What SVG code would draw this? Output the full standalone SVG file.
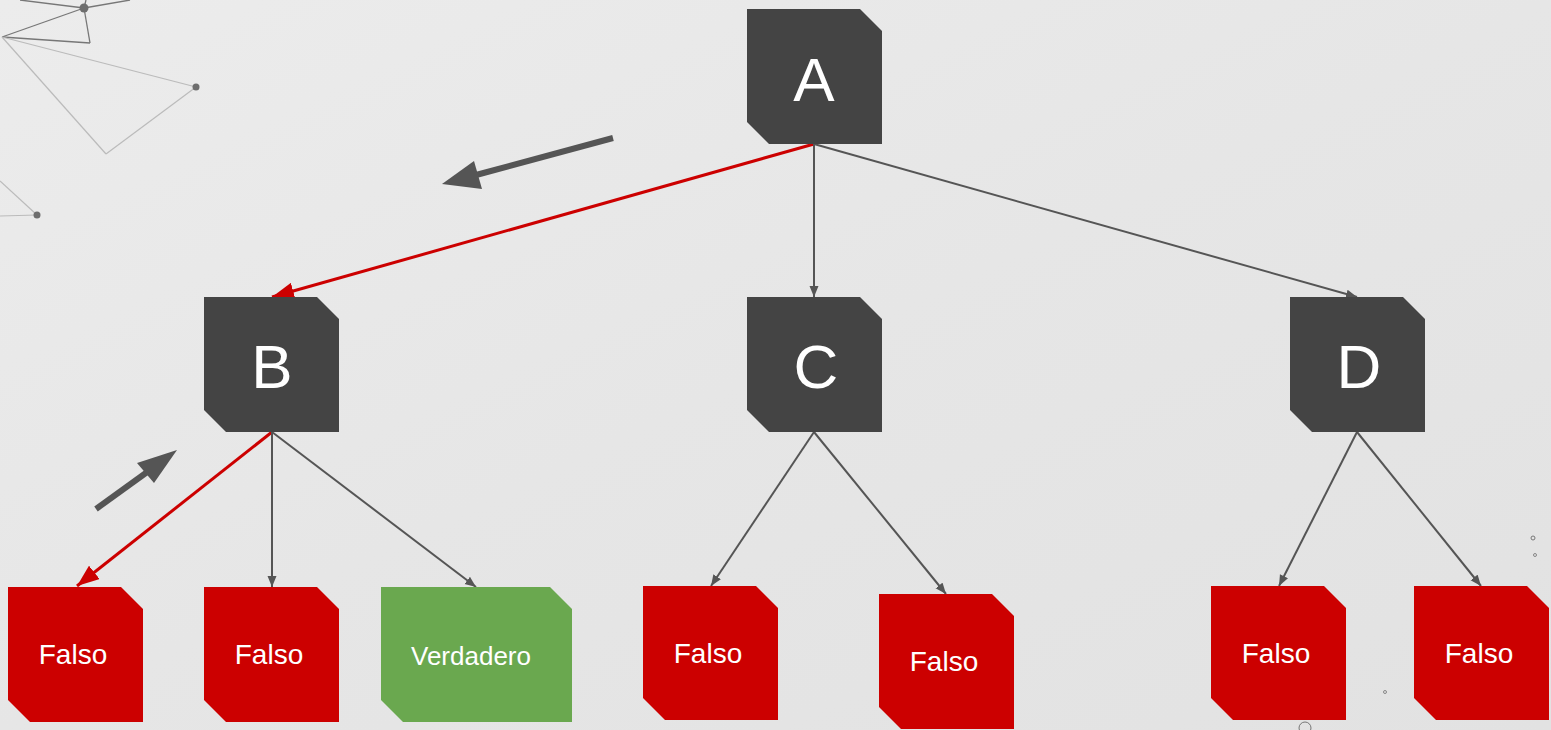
<svg xmlns="http://www.w3.org/2000/svg" width="1551" height="730" viewBox="0 0 1551 730">
  <defs>
    <linearGradient id="bg" x1="0" y1="0" x2="1" y2="1">
      <stop offset="0" stop-color="#ececec"/>
      <stop offset="0.5" stop-color="#e6e6e6"/>
      <stop offset="1" stop-color="#e2e2e2"/>
    </linearGradient>
    <marker id="ah-gray" viewBox="0 0 10 10" refX="10" refY="5" markerWidth="11" markerHeight="10" markerUnits="userSpaceOnUse" orient="auto" preserveAspectRatio="none">
      <path d="M0,0.5 L10,5 L0,9.5 Z" fill="#555555"/>
    </marker>
    <marker id="ah-red" viewBox="0 0 10 10" refX="10" refY="5" markerWidth="22" markerHeight="17" markerUnits="userSpaceOnUse" orient="auto" preserveAspectRatio="none">
      <path d="M0,0 L10,5 L0,10 Z" fill="#cc0000"/>
    </marker>
  </defs>
  <style>
    .dark { fill: #444444; }
    .bad { fill: #cc0000; }
    .good { fill: #6aa84f; }
    .big { font-family: "Liberation Sans", Arial, sans-serif; font-size: 62px; fill: #ffffff; text-anchor: middle; }
    .leaf { font-family: "Liberation Sans", Arial, sans-serif; font-size: 28px; fill: #ffffff; text-anchor: middle; }
    .edge { stroke: #555555; stroke-width: 2; fill: none; marker-end: url(#ah-gray); }
    .path { stroke: #cc0000; stroke-width: 3; fill: none; marker-end: url(#ah-red); }
    .net-d { stroke: #777777; stroke-width: 1.3; fill: none; }
    .net-l { stroke: #bbbbbb; stroke-width: 1.2; fill: none; }
    .dot { fill: #6e6e6e; }
  </style>

  <rect width="1551" height="730" fill="url(#bg)"/>

  <!-- decorative network, top left -->
  <g id="network">
    <line class="net-d" x1="2" y1="37" x2="84" y2="8"/>
    <line class="net-d" x1="84" y1="8" x2="90" y2="43"/>
    <line class="net-d" x1="2" y1="37" x2="90" y2="43"/>
    <line class="net-d" x1="84" y1="8" x2="20" y2="0"/>
    <line class="net-d" x1="84" y1="8" x2="130" y2="0"/>
    <line class="net-d" x1="84" y1="8" x2="86" y2="0"/>
    <line class="net-l" x1="2" y1="37" x2="196" y2="87"/>
    <line class="net-l" x1="196" y1="87" x2="106" y2="154"/>
    <line class="net-l" x1="2" y1="37" x2="106" y2="154"/>
    <line class="net-l" x1="0" y1="181" x2="37" y2="215"/>
    <line class="net-l" x1="0" y1="216" x2="37" y2="215"/>
    <circle class="dot" cx="84" cy="8" r="4.5"/>
    <circle class="dot" cx="196" cy="87" r="3.5"/>
    <circle class="dot" cx="37" cy="215" r="3.5"/>
    <circle cx="1533" cy="538" r="2" fill="none" stroke="#777" stroke-width="1"/>
    <circle cx="1535" cy="555" r="1.5" fill="none" stroke="#888" stroke-width="1"/>
    <circle cx="1385" cy="692" r="1.5" fill="none" stroke="#888" stroke-width="1"/>
    <circle cx="1305" cy="728" r="6" fill="none" stroke="#777" stroke-width="1"/>
  </g>

  <!-- connectors -->
  <g id="connectors">
    <line class="path" x1="814" y1="144" x2="272" y2="297"/>
    <line class="edge" x1="814" y1="144" x2="814" y2="297"/>
    <line class="edge" x1="814" y1="144" x2="1357" y2="297"/>
    <line class="path" x1="272" y1="432" x2="77" y2="586"/>
    <line class="edge" x1="272" y1="432" x2="272" y2="587"/>
    <line class="edge" x1="272" y1="432" x2="476" y2="587"/>
    <line class="edge" x1="814" y1="432" x2="711" y2="586"/>
    <line class="edge" x1="814" y1="432" x2="946" y2="594"/>
    <line class="edge" x1="1357" y1="432" x2="1279" y2="586"/>
    <line class="edge" x1="1357" y1="432" x2="1481" y2="586"/>
  </g>

  <!-- direction hints -->
  <g id="hints" fill="#555555" stroke="none">
    <line x1="613" y1="138" x2="476" y2="175" stroke="#555555" stroke-width="6"/>
    <path d="M442,184 L474,161 L482,189 Z"/>
    <line x1="96" y1="509" x2="150" y2="470" stroke="#555555" stroke-width="6"/>
    <path d="M177,450 L137,463 L154,483 Z"/>
  </g>

  <g id="node-A">
    <path class="dark" d="M747,9 H860 L882,31 V144 H769 L747,122 Z"/>
    <text class="big" x="814" y="101">A</text>
  </g>
  <g id="node-B">
    <path class="dark" d="M204,297 H317 L339,319 V432 H226 L204,410 Z"/>
    <text class="big" x="272" y="388">B</text>
  </g>
  <g id="node-C">
    <path class="dark" d="M747,297 H860 L882,319 V432 H769 L747,410 Z"/>
    <text class="big" x="816" y="388">C</text>
  </g>
  <g id="node-D">
    <path class="dark" d="M1290,297 H1403 L1425,319 V432 H1312 L1290,410 Z"/>
    <text class="big" x="1359" y="388">D</text>
  </g>

  <g id="leaf-B1">
    <path class="bad" d="M8,587 H121 L143,609 V722 H30 L8,700 Z"/>
    <text class="leaf" x="73" y="664">Falso</text>
  </g>
  <g id="leaf-B2">
    <path class="bad" d="M204,587 H317 L339,609 V722 H226 L204,700 Z"/>
    <text class="leaf" x="269" y="664">Falso</text>
  </g>
  <g id="leaf-B3">
    <path class="good" d="M381,587 H550 L572,609 V722 H403 L381,700 Z"/>
    <text class="leaf" x="471" y="665" style="font-size:26px">Verdadero</text>
  </g>
  <g id="leaf-C1">
    <path class="bad" d="M643,586 H756 L778,608 V720 H665 L643,698 Z"/>
    <text class="leaf" x="708" y="663">Falso</text>
  </g>
  <g id="leaf-C2">
    <path class="bad" d="M879,594 H992 L1014,616 V729 H901 L879,707 Z"/>
    <text class="leaf" x="944" y="671">Falso</text>
  </g>
  <g id="leaf-D1">
    <path class="bad" d="M1211,586 H1324 L1346,608 V720 H1233 L1211,698 Z"/>
    <text class="leaf" x="1276" y="663">Falso</text>
  </g>
  <g id="leaf-D2">
    <path class="bad" d="M1414,586 H1527 L1549,608 V720 H1436 L1414,698 Z"/>
    <text class="leaf" x="1479" y="663">Falso</text>
  </g>
</svg>
